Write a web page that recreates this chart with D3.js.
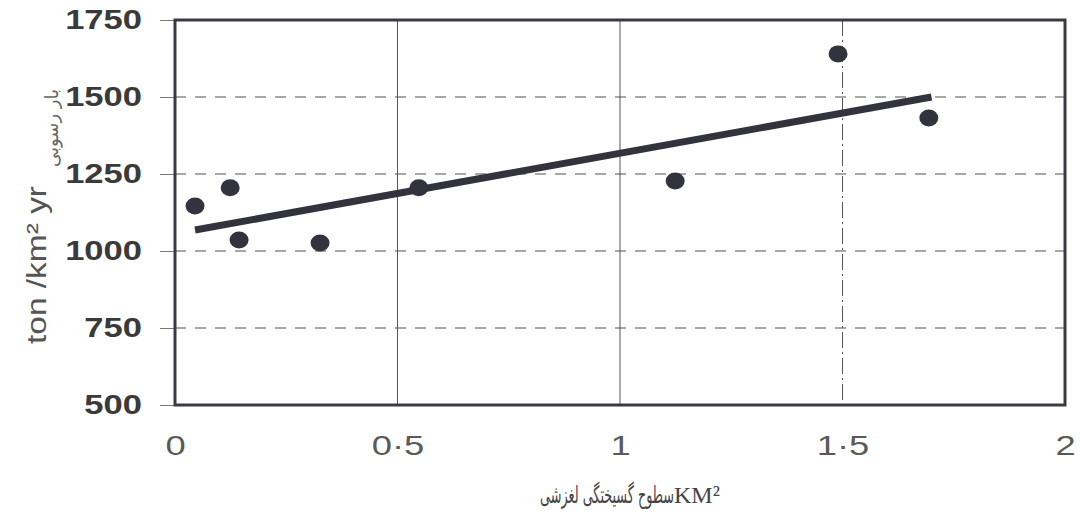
<!DOCTYPE html>
<html><head><meta charset="utf-8">
<script src="https://cdn.jsdelivr.net/npm/d3@7"></script>
<style>body{margin:0;background:#fff}</style>
</head><body>
<script>
const pointX = [0.045, 0.124, 0.144, 0.326, 0.548, 1.124, 1.49, 1.694];
const pointY = [1146, 1205, 1036, 1026, 1205, 1227, 1640, 1432];
const trendX = [0.045, 1.70];
const trendY = [1068, 1500];
const xTicks = [0, 0.5, 1, 1.5, 2];
const xTickLabels = ["0", "0·5", "1", "1·5", "2"];
const yTicks = [500, 750, 1000, 1250, 1500, 1750];
const yLabel = "ton /km² yr";
const yLabelFa = "بار رسوبی";
const xLabelFa = "سطوح گسیختگی لغزشی";
const xLabelUnit = "KM²";

const W = 1080, H = 525;
const svg = d3.select("body").append("svg").attr("width", W).attr("height", H);
const x = d3.scaleLinear().domain([0, 2]).range([175, 1065]);
const y = d3.scaleLinear().domain([500, 1750]).range([405, 20]);

// horizontal dashed grid
svg.append("g").selectAll("line").data(yTicks.filter(d => d > 500 && d < 1750)).join("line")
  .attr("x1", x(0)).attr("x2", x(2)).attr("y1", d => y(d)).attr("y2", d => y(d))
  .attr("stroke", "#8a8a8a").attr("stroke-width", 1.5).attr("stroke-dasharray", "11,9");

// vertical grid
svg.append("g").selectAll("line").data(xTicks.filter(d => d > 0 && d < 2)).join("line")
  .attr("x1", d => x(d)).attr("x2", d => x(d)).attr("y1", y(1750)).attr("y2", y(500))
  .attr("stroke", "#555").attr("stroke-width", 1)
  .attr("stroke-dasharray", d => d === 1.5 ? "16,4,2,4" : null);

// axes
const ySX = 1.28;
const yAxis = d3.axisLeft(y).tickValues(yTicks).tickSize(15).tickPadding(18).tickFormat(d3.format("d"));
const gy = svg.append("g").attr("transform", `translate(${x(0)},0)`).call(yAxis);
gy.select(".domain").remove();
gy.selectAll(".tick line").attr("stroke", "#777").attr("stroke-width", 1);
gy.selectAll(".tick text").attr("font-family", "Liberation Sans, Arial, sans-serif")
  .attr("font-size", 27).attr("font-weight", "bold").attr("fill", "#3a3a3a")
  .attr("x", -33 / ySX).attr("transform", `scale(${ySX},1)`);

const xSX = 1.3;
const xAxis = d3.axisBottom(x).tickValues(xTicks).tickSize(0).tickPadding(30)
  .tickFormat((d, i) => xTickLabels[i]);
const gx = svg.append("g").attr("transform", `translate(0,${y(500)})`).call(xAxis);
gx.select(".domain").remove();
gx.selectAll(".tick text").attr("font-family", "Liberation Sans, Arial, sans-serif")
  .attr("font-size", 28).attr("fill", "#5a5a5a").attr("transform", `scale(${xSX},1)`);

// frame
svg.append("rect").attr("x", x(0)).attr("y", y(1750))
  .attr("width", x(2) - x(0)).attr("height", y(500) - y(1750))
  .attr("fill", "none").attr("stroke", "#3a3a44").attr("stroke-width", 3);

// trend line
svg.append("line").attr("x1", x(trendX[0])).attr("y1", y(trendY[0]))
  .attr("x2", x(trendX[1])).attr("y2", y(trendY[1]))
  .attr("stroke", "#33333d").attr("stroke-width", 7);

// points
svg.append("g").selectAll("ellipse").data(pointX.map((d, i) => [d, pointY[i]])).join("ellipse")
  .attr("cx", d => x(d[0])).attr("cy", d => y(d[1])).attr("rx", 9.5).attr("ry", 8.5)
  .attr("fill", "#33333d");

// y label
svg.append("text").attr("transform", "translate(46,265) rotate(-90)")
  .attr("text-anchor", "middle").attr("font-family", "Liberation Sans, Arial, sans-serif")
  .attr("font-size", 27).attr("fill", "#555")
  .attr("textLength", 158).attr("lengthAdjust", "spacingAndGlyphs").text(yLabel);
svg.append("text").attr("transform", "translate(58,128) rotate(-90)")
  .attr("text-anchor", "middle").attr("font-family", "DejaVu Sans, sans-serif")
  .attr("font-size", 18).attr("fill", "#666").text(yLabelFa);

// x label
svg.append("text").attr("transform", "translate(674,503) scale(0.64,1.2)")
  .attr("text-anchor", "end").attr("font-family", "DejaVu Sans, sans-serif")
  .attr("font-size", 20).attr("fill", "#444").text(xLabelFa);
svg.append("text").attr("x", 674).attr("y", 503).attr("text-anchor", "start")
  .attr("font-family", "Liberation Serif, serif").attr("font-size", 24)
  .attr("fill", "#444").text(xLabelUnit);
</script>
</body></html>
